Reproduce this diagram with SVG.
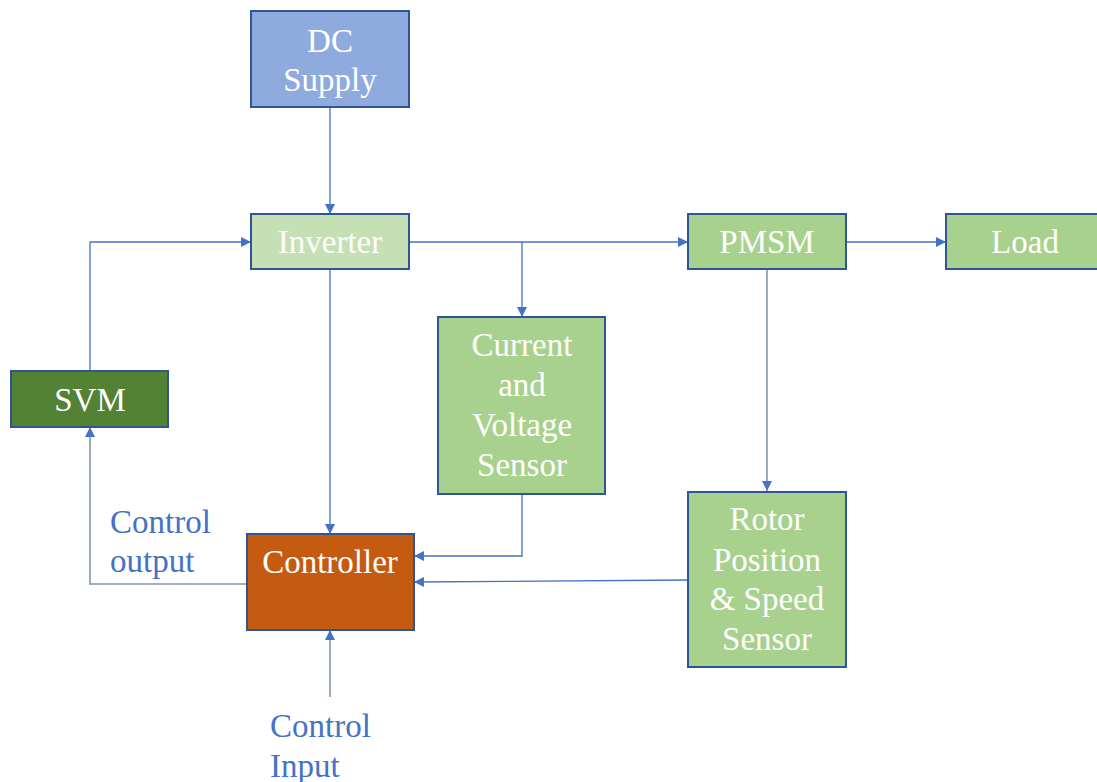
<svg xmlns="http://www.w3.org/2000/svg" width="1097" height="782" viewBox="0 0 1097 782">
<defs>
<marker id="arr" viewBox="0 0 10 10" refX="10" refY="5" markerWidth="10" markerHeight="10" markerUnits="userSpaceOnUse" orient="auto">
<path d="M0,0 L10,5 L0,10 z" fill="#4472C4"/>
</marker>
<style>
.box{stroke:#2F5597;stroke-width:2}
.t{font-family:'Liberation Serif',serif;font-size:33px;fill:#FFFFFF;text-anchor:middle}
.lbl{font-family:'Liberation Serif',serif;font-size:33px;fill:#4472C4}
.c{fill:none;stroke:#4472C4;stroke-width:1.3}
.cg{fill:none;stroke:#8497B0;stroke-width:1.6}
</style>
</defs>
<rect width="1097" height="782" fill="#FFFFFF"/>
<g id="connectors">
<path class="c" d="M330,107 L330,214" marker-end="url(#arr)"/>
<path class="c" d="M409,242 L688,242" marker-end="url(#arr)"/>
<path class="c" d="M522,242 L522,317" marker-end="url(#arr)"/>
<path class="c" d="M846,242 L946,242" marker-end="url(#arr)"/>
<path class="cg" d="M767,269 L767,491" marker-end="url(#arr)"/>
<path class="c" d="M330,269 L330,534" marker-end="url(#arr)"/>
<path class="c" d="M90,371 L90,242 L251,242" marker-end="url(#arr)"/>
<path class="cg" d="M247,584 L90,584 L90,427" marker-end="url(#arr)"/>
<path class="c" d="M522,494 L522,556 L414,556" marker-end="url(#arr)"/>
<path class="c" d="M688,580 L414,582" marker-end="url(#arr)"/>
<path class="cg" d="M330,697 L330,630" marker-end="url(#arr)"/>
</g>
<g id="dc-supply">
<rect class="box" x="251" y="11" width="158" height="96" fill="#8FAADC"/>
<text class="t" x="330" y="52">DC</text>
<text class="t" x="330" y="91">Supply</text>
</g>
<g id="inverter">
<rect class="box" x="251" y="214" width="158" height="55" fill="#C5E0B4"/>
<text class="t" x="330" y="253">Inverter</text>
</g>
<g id="pmsm">
<rect class="box" x="688" y="214" width="158" height="55" fill="#A9D18E"/>
<text class="t" x="767" y="253">PMSM</text>
</g>
<g id="load">
<rect class="box" x="946" y="214" width="160" height="55" fill="#A9D18E"/>
<text class="t" x="1025" y="253">Load</text>
</g>
<g id="svm">
<rect class="box" x="11" y="371" width="157" height="56" fill="#548235"/>
<text class="t" x="90" y="411">SVM</text>
</g>
<g id="cv-sensor">
<rect class="box" x="438" y="317" width="167" height="177" fill="#A9D18E"/>
<text class="t" x="522" y="356">Current</text>
<text class="t" x="522" y="396">and</text>
<text class="t" x="522" y="436">Voltage</text>
<text class="t" x="522" y="476">Sensor</text>
</g>
<g id="rotor-sensor">
<rect class="box" x="688" y="492" width="158" height="175" fill="#A9D18E"/>
<text class="t" x="767" y="530">Rotor</text>
<text class="t" x="767" y="571">Position</text>
<text class="t" x="767" y="610">&amp; Speed</text>
<text class="t" x="767" y="650">Sensor</text>
</g>
<g id="controller">
<rect class="box" x="247" y="534" width="167" height="96" fill="#C55A11"/>
<text class="t" x="330" y="573">Controller</text>
</g>
<g id="label-control-output">
<text class="lbl" x="110" y="533">Control</text>
<text class="lbl" x="110" y="572">output</text>
</g>
<g id="label-control-input">
<text class="lbl" x="270" y="737">Control</text>
<text class="lbl" x="270" y="777">Input</text>
</g>
</svg>
